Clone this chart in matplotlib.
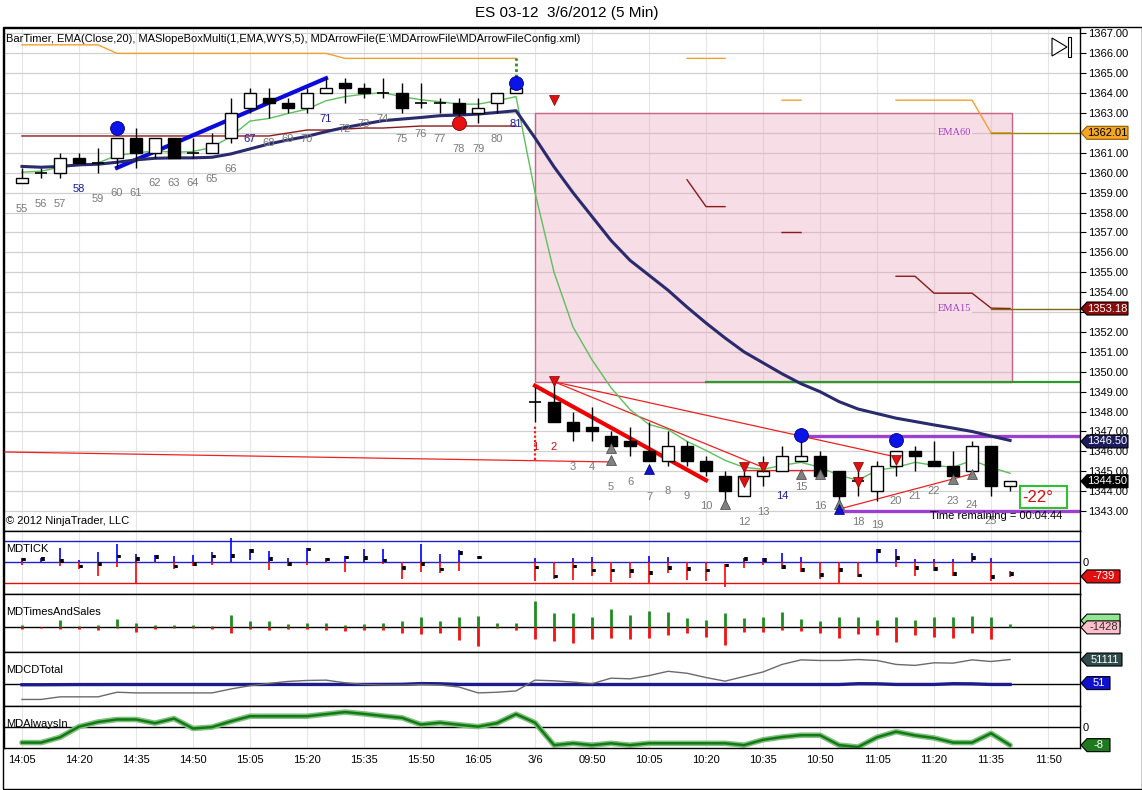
import numpy as np
import matplotlib
matplotlib.use('Agg')
import matplotlib.pyplot as plt
from matplotlib.patches import Rectangle, Polygon
import matplotlib.transforms as mtransforms

plt.rcParams['font.family'] = ['Liberation Sans', 'DejaVu Sans']

nan = np.nan

# ---------------- data ----------------
bar_labels = [str(b) for b in range(55, 82)] + [str(b) for b in range(1, 27)]
time_labels = ['14:05', '14:20', '14:35', '14:50', '15:05', '15:20', '15:35', '15:50', '16:05',
               '3/6', '09:50', '10:05', '10:20', '10:35', '10:50', '11:05', '11:20', '11:35', '11:50']

opens = [1359.5, 1360.0, 1360.0, 1360.75, 1360.5, 1360.75, 1361.75, 1361.0, 1361.75, 1361.0,
         1361.0, 1361.75, 1363.25, 1363.75, 1363.5, 1363.25, 1364.0, 1364.5, 1364.25, 1364.0,
         1364.0, 1363.5, 1363.5, 1363.5, 1363.0, 1363.5, 1364.0,
         1348.5, 1348.5, 1347.5, 1347.25, 1346.75, 1346.5, 1346.0, 1345.5, 1346.25, 1345.5,
         1344.75, 1343.75, 1344.75, 1345.0, 1345.5, 1345.75, 1345.0, 1344.5, 1344.0, 1345.25,
         1346.0, 1345.5, 1345.25, 1345.0, 1346.25, 1344.25]
highs = [1360.25, 1360.25, 1361.0, 1361.0, 1361.25, 1361.75, 1362.25, 1361.75, 1361.75, 1361.75,
         1362.0, 1363.75, 1364.25, 1364.25, 1363.75, 1364.25, 1364.75, 1364.75, 1364.5, 1364.75,
         1364.5, 1364.5, 1363.75, 1363.75, 1363.75, 1364.0, 1364.25,
         1349.25, 1349.5, 1348.0, 1348.25, 1347.0, 1347.25, 1347.5, 1347.0, 1346.5, 1345.75,
         1345.0, 1345.0, 1345.75, 1346.25, 1346.5, 1346.0, 1345.0, 1345.0, 1345.5, 1346.0,
         1346.25, 1346.5, 1346.0, 1346.5, 1346.25, 1344.5]
lows = [1359.5, 1359.75, 1359.75, 1360.5, 1360.0, 1360.25, 1360.25, 1360.75, 1360.75, 1360.75,
        1361.0, 1361.5, 1363.0, 1362.75, 1363.0, 1363.0, 1364.0, 1363.5, 1363.75, 1363.75,
        1363.0, 1363.25, 1363.0, 1362.75, 1362.5, 1363.0, 1364.0,
        1347.5, 1347.5, 1346.5, 1346.5, 1346.0, 1345.75, 1345.5, 1345.25, 1345.25, 1344.75,
        1343.25, 1343.75, 1344.25, 1345.0, 1345.5, 1344.75, 1343.0, 1343.75, 1343.5, 1344.75,
        1345.0, 1345.25, 1344.5, 1344.75, 1343.75, 1344.0]
closes = [1359.75, 1360.0, 1360.75, 1360.5, 1360.5, 1361.75, 1361.0, 1361.75, 1360.75, 1361.0,
          1361.5, 1363.0, 1364.0, 1363.5, 1363.25, 1364.0, 1364.25, 1364.25, 1364.0, 1364.0,
          1363.25, 1363.5, 1363.5, 1363.0, 1363.25, 1364.0, 1364.25,
          1348.5, 1347.5, 1347.0, 1347.0, 1346.25, 1346.25, 1345.5, 1346.25, 1345.5, 1345.0,
          1344.0, 1344.75, 1345.0, 1345.75, 1345.75, 1344.75, 1343.75, 1344.5, 1345.25, 1346.0,
          1345.75, 1345.25, 1344.75, 1346.25, 1344.25, 1344.5]

ema_fast = [1360.03, 1360.08, 1360.28, 1360.37, 1360.5, 1360.87, 1361.0, 1361.1, 1361.03, 1361.07,
            1361.28, 1361.83, 1362.6, 1362.73, 1362.98, 1363.2, 1363.62, 1363.83, 1363.95, 1364.03,
            1363.82, 1363.67, 1363.57, 1363.45, 1363.45, 1363.62, 1363.83,
            1359.0, 1355.0, 1352.25, 1350.6, 1349.2, 1348.1, 1347.35, 1347.1, 1346.5, 1346.05,
            1345.55, 1345.2, 1345.1, 1345.3, 1345.45, 1345.2, 1344.8, 1344.55, 1345.05, 1345.2,
            1345.45, 1345.3, 1345.2, 1345.55, 1345.2, 1344.9]
ema_slow = [1360.32, 1360.28, 1360.32, 1360.4, 1360.43, 1360.53, 1360.65, 1360.73, 1360.75, 1360.75,
            1360.78, 1360.95, 1361.2, 1361.45, 1361.65, 1361.83, 1362.07, 1362.28, 1362.45, 1362.62,
            1362.7, 1362.78, 1362.87, 1362.9, 1362.95, 1363.03, 1363.12,
            1361.75, 1360.3, 1359.0, 1357.8, 1356.6, 1355.6, 1354.85, 1354.1, 1353.25, 1352.45,
            1351.7, 1351.0, 1350.45, 1349.9, 1349.4, 1349.0, 1348.5, 1348.13, 1347.9, 1347.67,
            1347.5, 1347.33, 1347.17, 1347.0, 1346.77, 1346.55]
ema60 = [1366.43] * 5 + [1366.0] * 12 + [1365.75] * 10 + [nan] * 8 + [1365.75] * 3 + [nan] * 2 + \
        [1363.65] * 2 + [nan] * 4 + [1363.65] * 5 + [1362.01, 1362.01]
ema15 = [1361.85] * 14 + [1362.0, 1362.15, 1362.15, 1362.2, 1362.25, 1362.25, 1362.3] + [1362.35] * 6 + \
        [nan] * 8 + [1359.65, 1358.3, 1358.3] + [nan] * 2 + [1357.0] * 2 + [nan] * 4 + \
        [1354.8, 1354.8, 1353.95, 1353.95, 1353.95, 1353.2, 1353.18]

label_y = [1358.2, 1358.45, 1358.45, 1359.2, 1358.7, 1358.97, 1358.97, 1359.47, 1359.47, 1359.47,
           1359.67, 1360.18, 1361.7, 1361.5, 1361.7, 1361.7, 1362.7, 1362.2, 1362.45, 1362.7,
           1361.7, 1361.95, 1361.7, 1361.2, 1361.2, 1361.7, 1362.45,
           1346.2, 1346.2, 1345.2, 1345.2, 1344.2, 1344.45, 1343.72, 1344.0, 1343.77, 1343.26,
           nan, 1342.46, 1342.97, 1343.77, 1344.2, 1343.26, nan, 1342.46, 1342.3, 1343.5,
           1343.77, 1344.0, 1343.5, 1343.3, 1342.5, nan]
blue_labels = ['58', '67', '71', '81']
day2_blue_labels = ['14']
red_labels = ['1', '2']

box_x = [27, 52.1]
box_y = [1349.5, 1363.0]

blue_trend_x, blue_trend_y = [5, 16], [1360.25, 1364.75]
red_trend_x, red_trend_y = [27, 36], [1349.3, 1344.55]
thin_red_lines = [([28, 46], [1349.5, 1345.72]),
                  ([28, 39], [1349.5, 1345.2]),
                  ([38, 42], [1345.05, 1345.05]),
                  ([43, 50], [1343.1, 1344.87]),
                  ([-0.95, 31], [1345.97, 1345.47])]

green_level, green_level_start = 1349.5, 36
purple_levels = [1346.75, 1343.0]
purple_starts = [41.3, 43.1]

blue_dots_x, blue_dots_y = [5, 26, 41, 46], [1362.23, 1364.5, 1346.83, 1346.57]
red_dots_x, red_dots_y = [23], [1362.5]
gray_up_x = [31, 31, 37, 41, 42, 43, 49, 50]
gray_up_y = [1346.15, 1345.55, 1343.35, 1344.87, 1344.87, 1343.38, 1344.6, 1344.87]
blue_up_x, blue_up_y = [33, 43], [1345.13, 1343.12]
red_dn_x = [28, 28, 38, 38, 39, 44, 44, 46]
red_dn_y = [1349.54, 1363.65, 1345.2, 1344.45, 1345.2, 1345.2, 1344.45, 1345.55]

# MDTICK
tick_hi = [241, 206, 722, 120, 516, 946, 447, 378, 327, 378, 516, 1273, 688, 585, 241, 757, 206, 327,
           671, 688, 0, 946, 430, 636, 310, nan, nan,
           241, 0, 241, 292, 0, 0, 327, 292, 0, 0, -103, 206, 206, 499, 275, 0, 0, 0, 688, 671,
           172, 172, 155, 464, 206, -482]
tick_lo = [-172, 0, -224, -344, -740, -275, -1084, -52, -361, -224, -172, 0, 120, -396, -224, -172, -52,
           -516, 34, -103, -877, -533, -568, -482, 155, nan, nan,
           -963, -860, -912, -740, -1049, -826, -1135, -568, -912, -998, -1307, -310, -172, -361, -516,
           -877, -1135, -791, 0, -275, -740, -482, -740, -52, -963, -791]
tick_cl = [138, 155, 69, -224, -103, 292, 172, 258, -224, -103, 292, 327, 585, 155, -103, 654, 138, 241,
           206, 86, -310, -103, -378, 464, 241, nan, nan,
           -275, -740, -224, -430, -430, -447, -568, -310, -361, -430, -172, 155, 120, -258, -396,
           -654, -396, -688, 585, 206, -310, -361, -619, 206, -774, -620]
# MDTimesAndSales
ts_buy = [700, 200, 2200, 400, 700, 2500, 1400, 700, 700, 700, 500, 3700, 1900, 1900, 1100, 1300, 1300,
          700, 900, 1200, 1900, 3100, 1900, 3100, 3400, 1300, 1300,
          7900, 4300, 4300, 3100, 5500, 3700, 4900, 4500, 2700, 2200, 4300, 2900, 3100, 4500, 2500,
          1900, 3100, 3100, 2200, 3100, 2200, 3100, 3100, 3400, 3100, 1100]
ts_sell = [-500, -200, -500, -500, -800, -300, -1300, -500, -300, -300, -500, -1600, -500, -800, -500,
           -500, -800, -1000, -700, -700, -1800, -2000, -1800, -3800, -5500, -300, -800,
           -3300, -4100, -4500, -3300, -3000, -3300, -3000, -2300, -1800, -2800, -5100, -1300, -1300,
           -800, -1100, -1800, -3000, -2100, -2300, -4300, -2300, -2800, -3000, -1800, -3300, 0]
# MDCDTotal
cd_total = [-32000, -32000, -26600, -26600, -26600, -17000, -18400, -18400, -18400, -18400, -18400,
            -10200, -3400, 1400, 5500, 7500, 8200, 2700, -700, -2000, -2000, -700, -2000, -6100,
            -18400, -17000, -14300,
            8200, 6800, 4100, 700, 12300, 10900, 17700, 26600, 22500, 13600, 6100, 15700, 25200,
            40900, 50400, 49100, 49100, 51100, 49100, 40900, 38900, 44300, 43600, 50400, 47000, 51111]
cd_navy = [-1400, -1400, -1200, -1000, -1000, -900, -900, -900, -900, -900, -900, -900, -900, -800,
           -800, -800, -800, -800, -800, -700, -500, 1000, 600, -700, -800, -800, -800,
           -800, -900, -900, -900, -900, -900, -900, -900, -900, -900, -900, -900, -900, -900, -900,
           -900, -900, 800, 600, -800, -800, -800, 800, 500, -800, -800]
# MDAlwaysIn
always_in = [-6.9, -6.9, -4.6, 0, 2.0, 3.1, 3.1, 1.5, 3.5, -0.8, -0.2, 2.3, 4.5, 4.5, 4.5, 4.5, 5.4,
             6.3, 5.5, 4.6, 3.8, 0.9, 1.7, 0.8, 0, 1.5, 5.4,
             1.7, -8, -7.2, -8, -7.2, -8, -7.2, -7.2, -7.2, -7.2, -7.2, -8, -5.7, -4.5, -3.7, -3.7,
             -8, -8.8, -4.6, -2.2, -3.8, -4.9, -6.9, -6.9, -2.9, -8]

n = len(closes)
xs = np.arange(n)
time_pos = np.arange(0, 3 * len(time_labels), 3)

# ---------------- layout ----------------
W, H = 1142, 790
fig = plt.figure(figsize=(W / 100, H / 100), dpi=100)
px = mtransforms.Affine2D().scale(1 / W, -1 / H).translate(0, 1) + fig.transFigure

def ax_at(y0, y1, x0=4, x1=1080):
    a = fig.add_axes([x0 / W, 1 - y1 / H, (x1 - x0) / W, (y1 - y0) / H])
    for s in a.spines.values():
        s.set_color('black')
        s.set_linewidth(1)
    a.set_xlim(-0.947, 55.68)
    a.yaxis.tick_right()
    a.tick_params(axis='y', labelsize=8, length=4, pad=2)
    a.tick_params(axis='x', length=0, labelbottom=False)
    for t in time_pos:
        a.axvline(t, color='#e6e6e6', lw=0.8, zorder=0)
    return a

def tag(a, yv, text, fc, tc, ec='black', wpx=48):
    y0, y1 = a.get_ylim()
    pos = a.get_position()
    du = (y1 - y0) / (pos.height * H)
    hh = 6.5 * du
    aw = pos.width * W
    pts = [(1 + 1 / aw, yv), (1 + 7 / aw, yv + hh), (1 + wpx / aw, yv + hh),
           (1 + wpx / aw, yv - hh), (1 + 7 / aw, yv - hh)]
    tr = a.get_yaxis_transform()
    a.add_patch(Polygon(pts, closed=True, transform=tr, fc=fc, ec=ec, lw=0.8, clip_on=False, zorder=20))
    a.text(1 + (wpx + 7) / 2 / aw, yv, text, transform=tr, ha='center', va='center', color=tc,
           fontsize=8, clip_on=False, zorder=21)

# ---------------- main price panel ----------------
ax = ax_at(28, 531)
ax.set_ylim(1342.0, 1367.276)
price_ticks = np.arange(1343, 1368)
ax.set_yticks(price_ticks)
# labels under the 1362 / 1353 tags are covered in the original
ax.set_yticklabels(['' if p in (1362, 1353) else '%.2f' % p for p in price_ticks])
ax.grid(axis='y', color='#d0d0d0', lw=0.9, zorder=0)
ax.set_axisbelow(True)

ax.add_patch(Rectangle((box_x[0], box_y[0]), box_x[1] - box_x[0], box_y[1] - box_y[0],
                       fc='#e8a0b8', alpha=0.35, ec='none', zorder=1))
ax.add_patch(Rectangle((box_x[0], box_y[0]), box_x[1] - box_x[0], box_y[1] - box_y[0],
                       fc='none', ec='#c86488', lw=1, zorder=1.1))

xr = ax.get_xlim()[1]
ax.plot(xs, ema60, color='#f0a030', lw=1, zorder=2)
ax.plot(xs, ema15, color='#8b1a1a', lw=1, zorder=2)
ax.plot([n - 2, xr], [ema60[-1], ema60[-1]], color='#9a8a10', lw=1, zorder=2)
ax.plot([n - 2, xr], [ema15[-1], ema15[-1]], color='#7a6a10', lw=1, zorder=2)
ax.text(48.2, ema60[-1], 'EMA60', color='#a040c0', fontsize=7.5, family='Liberation Serif',
        va='center', ha='left', zorder=6, bbox=dict(fc='#f7dee6', ec='none', pad=0.5))
ax.text(48.2, ema15[-1], 'EMA15', color='#a040c0', fontsize=7.5, family='Liberation Serif',
        va='center', ha='left', zorder=6, bbox=dict(fc='#f7dee6', ec='none', pad=0.5))

ax.plot([green_level_start, xr], [green_level, green_level], color='#2e9a2e', lw=1.6, zorder=2)
for lv, st in zip(purple_levels, purple_starts):
    ax.plot([st, xr], [lv, lv], color='#9b40d0', lw=2.4, zorder=2)

for lx, ly in thin_red_lines:
    ax.plot(lx, ly, color='#ee2020', lw=0.9, zorder=3)
ax.plot(red_trend_x, red_trend_y, color='#ee0000', lw=3, zorder=3)
ax.plot(blue_trend_x, blue_trend_y, color='#0a0adc', lw=3, zorder=3)

ax.plot(xs, ema_fast, color='#5cc05c', lw=1, zorder=3.5)
ax.plot(xs, ema_slow, color='#2a2a6e', lw=2.2, zorder=3.5)

# dotted markers
ax.vlines(26, 1364.8, 1365.75, color='#2e8b2e', lw=2, linestyles=(0, (1, 1)), zorder=4)
ax.vlines(27, 1345.55, 1347.3, color='#ee2020', lw=1.6, linestyles=(0, (1, 1)), zorder=4)

bw = 0.66
for i in range(n):
    o, h, l, c = opens[i], highs[i], lows[i], closes[i]
    ax.vlines(i, l, h, color='black', lw=1, zorder=5)
    if o == c:
        ax.hlines(o, i - bw / 2, i + bw / 2, color='black', lw=1.2, zorder=6)
    else:
        ax.add_patch(Rectangle((i - bw / 2, min(o, c)), bw, abs(c - o),
                               fc='white' if c > o else 'black', ec='black', lw=1, zorder=6))

ax.plot(gray_up_x, gray_up_y, '^', color='#808080', mec='#404040', mew=0.5, ms=7, zorder=7)
ax.plot(blue_up_x, blue_up_y, '^', color='#1010d0', mec='#000060', mew=0.5, ms=7, zorder=7)
ax.plot(red_dn_x, red_dn_y, 'v', color='#e01010', mec='#800000', mew=0.5, ms=7, zorder=7)
ax.plot(blue_dots_x, blue_dots_y, 'o', color='#0a14e8', mec='#000080', mew=0.6, ms=10, zorder=7)
ax.plot(red_dots_x, red_dots_y, 'o', color='#e81010', mec='#800000', mew=0.6, ms=10, zorder=7)

for i in range(n):
    if np.isnan(label_y[i]):
        continue
    t = bar_labels[i]
    if (i < 27 and t in blue_labels) or (i >= 27 and t in day2_blue_labels):
        col = '#1a1aa0'
    elif i >= 27 and t in red_labels:
        col = '#d01010'
    else:
        col = '#7a7a7a'
    ax.text(i, label_y[i], t, color=col, fontsize=8, ha='center', va='center', zorder=8)

ax.text(6, 39, 'BarTimer, EMA(Close,20), MASlopeBoxMulti(1,EMA,WYS,5), '
        'MDArrowFile(E:\\MDArrowFile\\MDArrowFileConfig.xml)', transform=px, fontsize=8,
        ha='left', va='center', zorder=9)
ax.text(6, 521, '\u00a9 2012 NinjaTrader, LLC', transform=px, fontsize=8, ha='left', va='center')
ax.text(930, 516, 'Time remaining = 00:04:44', transform=px, fontsize=8, ha='left', va='center', zorder=9)
ax.add_patch(Rectangle((1020, 486), 47, 22, transform=px, fc='none', ec='#30c030', lw=1.5,
                       clip_on=False, zorder=9))
ax.text(1022, 497, '-22\u00b0', transform=px, fontsize=12, color='#d01010', ha='left', va='center', zorder=9)
# end-of-chart icon
ax.add_patch(Polygon([(1052, 38), (1067, 47), (1052, 56)], closed=True, transform=px, fc='white',
                     ec='black', lw=0.8, clip_on=False, zorder=9))
ax.add_patch(Rectangle((1068, 37), 3, 20, transform=px, fc='white', ec='black', lw=0.8,
                       clip_on=False, zorder=9))

tag(ax, ema60[-1], '1362.01', '#f5a623', 'black', ec='#8a5a00')
tag(ax, ema15[-1], '1353.18', '#8b0a0a', 'white')
tag(ax, ema_slow[-1] - 0.05, '1346.50', '#1c1c5c', 'white')
tag(ax, closes[-1], '1344.50', 'black', 'white')

# ---------------- MDTICK ----------------
a1 = ax_at(531, 594)
a1.set_ylim(-1651, 1617)
a1.set_yticks([0])
a1.set_yticklabels(['0'])
a1.tick_params(axis='y', length=0)
a1.axhline(1100, color='#2020d0', lw=1, zorder=1)
a1.axhline(0, color='#2020d0', lw=1, zorder=1)
a1.axhline(-1100, color='#e01010', lw=1, zorder=1)
for i in range(n):
    if np.isnan(tick_hi[i]):
        continue
    hi, lo = tick_hi[i], tick_lo[i]
    if hi > 0:
        a1.vlines(i, max(lo, 0), hi, color='#0000ff', lw=1.2, zorder=2)
    if lo < 0:
        a1.vlines(i, lo, min(hi, 0), color='#ff0000', lw=1.2, zorder=2)
    a1.vlines(i + 0.1, tick_cl[i] - 90, tick_cl[i] + 90, color='black', lw=2.6, zorder=3)
a1.text(6, 549, 'MDTICK', transform=px, fontsize=8, ha='left', va='center')
tag(a1, -739, '-739', '#e01010', 'white', wpx=40)

# ---------------- MDTimesAndSales ----------------
a2 = ax_at(594, 652)
a2.set_ylim(-7300, 9900)
a2.set_yticks([])
a2.axhline(0, color='black', lw=1, zorder=1)
a2.vlines(xs, 0, ts_buy, color='#1e8c1e', lw=2, zorder=2)
a2.vlines(xs, ts_sell, 0, color='#f01010', lw=2, zorder=2)
a2.text(6, 612, 'MDTimesAndSales', transform=px, fontsize=8, ha='left', va='center')
tag(a2, 2000, '', '#90e890', 'black', wpx=40)
tag(a2, 0, '-1428', '#ffc0cb', '#303030', wpx=40)

# ---------------- MDCDTotal ----------------
a3 = ax_at(652, 706)
a3.set_ylim(-45660, 66787)
a3.set_yticks([])
a3.axhline(0, color='black', lw=1, zorder=1)
a3.plot(xs, cd_navy, color='#1c1c8c', lw=2.4, zorder=2)
a3.plot(xs, cd_total, color='#6a6a6a', lw=1, zorder=3)
a3.text(6, 670, 'MDCDTotal', transform=px, fontsize=8, ha='left', va='center')
tag(a3, cd_total[-1], '51111', '#2f4a4a', 'white', wpx=42)
tag(a3, 2000, '51', '#1010d0', 'white', wpx=30)

# ---------------- MDAlwaysIn ----------------
a4 = ax_at(706, 748)
a4.set_ylim(-9.23, 8.92)
a4.set_yticks([0])
a4.set_yticklabels(['0'])
a4.tick_params(axis='y', length=0)
a4.axhline(0, color='black', lw=1, zorder=1)
a4.plot(xs, always_in, color='#80c080', lw=4, zorder=2, solid_capstyle='round')
a4.plot(xs, always_in, color='#127a12', lw=1.8, zorder=3)
a4.text(6, 724, 'MDAlwaysIn', transform=px, fontsize=8, ha='left', va='center')
tag(a4, always_in[-1], '-8', '#1f7a1f', 'white', wpx=30)
a4.set_xticks(time_pos)
a4.set_xticklabels(time_labels)
a4.tick_params(axis='x', labelbottom=True, labelsize=8, length=0, pad=5)

# outer frame
fig.add_artist(Rectangle((3, 27), 1139, 762, transform=px, fc='none', ec='black', lw=1))
fig.text(567 / W, 1 - 13 / H, 'ES 03-12  3/6/2012 (5 Min)', ha='center', va='center', fontsize=11)

fig.savefig('out.png', dpi=100)
